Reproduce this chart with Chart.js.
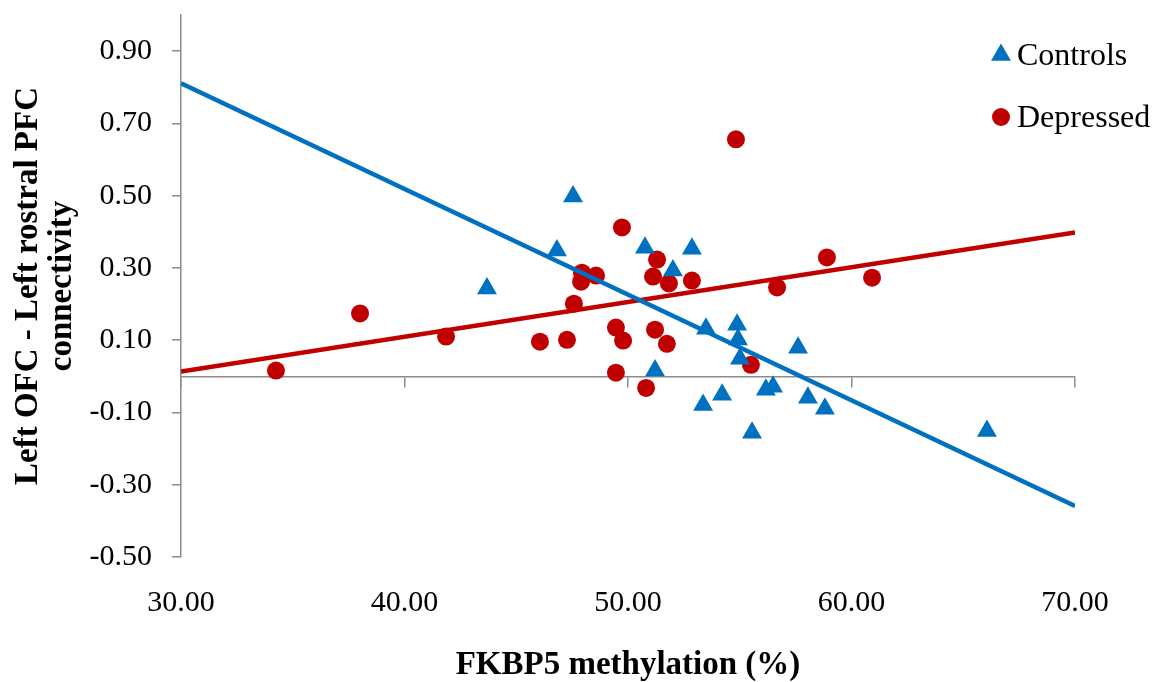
<!DOCTYPE html>
<html>
<head>
<meta charset="utf-8">
<script src="https://cdn.jsdelivr.net/npm/chart.js@4/dist/chart.umd.min.js"></script>
<style>
  body { margin: 0; background: #fff; }
  #grafico { display: block; }
</style>
</head>
<body>
<canvas id="grafico" width="1153" height="682"></canvas>
<script>
// valores
const nombresSeries = ['Controls', 'Depressed'];

const controlesX = [43.69, 46.82, 47.54, 50.76, 52.01, 52.86, 51.21, 53.49, 53.36, 54.21,
                    54.88, 54.92, 55.01, 55.55, 56.17, 56.49, 57.61, 58.05, 58.81, 66.06];
const controlesY = [0.243, 0.348, 0.498, 0.356, 0.293, 0.353, 0.016, 0.132, -0.079, -0.051,
                    0.143, 0.102, 0.049, -0.156, -0.037, -0.029, 0.079, -0.059, -0.090, -0.151];

const deprimidosX = [34.25, 38.01, 41.86, 46.06, 47.27, 47.58, 47.94, 47.90, 48.57, 49.73,
                     49.46, 49.78, 49.46, 50.81, 51.12, 51.30, 51.21, 51.74, 51.83, 52.86,
                     54.83, 55.50, 56.67, 58.90, 60.92];
const deprimidosY = [0.016, 0.174, 0.110, 0.096, 0.101, 0.201, 0.287, 0.262, 0.279, 0.412,
                     0.135, 0.099, 0.010, -0.032, 0.276, 0.323, 0.129, 0.090, 0.257, 0.265,
                     0.656, 0.032, 0.246, 0.329, 0.273];

// extremos de las rectas de tendencia
const tendenciaX = [30, 70];
const tendenciaControlesY = [0.811, -0.359];
const tendenciaDeprimidosY = [0.013, 0.398];

const ticksX = [30, 40, 50, 60, 70];
const ticksY = [-0.5, -0.3, -0.1, 0.1, 0.3, 0.5, 0.7, 0.9];

const azul = '#0070C0';
const rojo = '#C00000';
const gris = '#8c8c8c';
const fuente = "'Liberation Serif', 'Times New Roman', serif";

const aPuntos = (xs, ys) => xs.map((x, i) => ({ x, y: ys[i] }));

// leyenda flotante dentro del lienzo
const leyendaFlotante = {
    id: 'leyendaFlotante',
    afterDraw(chart) {
        const ctx = chart.ctx;
        const filas = [55, 117];
        ctx.save();
        [0, 1].forEach((i) => {
            const ds = chart.data.datasets[i];
            ctx.fillStyle = ds.backgroundColor;
            Chart.helpers.drawPoint(ctx, {
                pointStyle: ds.pointStyle,
                radius: ds.pointRadius,
                borderWidth: 0,
                rotation: 0,
            }, 1001, filas[i]);
            ctx.fillStyle = '#000';
            ctx.font = '32px ' + fuente;
            ctx.textBaseline = 'alphabetic';
            ctx.textAlign = 'left';
            ctx.fillText(nombresSeries[i], 1017, filas[i] + 10);
        });
        ctx.restore();
    },
};

new Chart(document.getElementById('grafico'), {
    type: 'scatter',
    data: {
        datasets: [
            {
                label: nombresSeries[0],
                data: aPuntos(controlesX, controlesY),
                pointStyle: 'triangle',
                pointRadius: 11.5,
                pointHoverRadius: 11.5,
                backgroundColor: azul,
                borderWidth: 0,
                order: 2,
            },
            {
                label: nombresSeries[1],
                data: aPuntos(deprimidosX, deprimidosY),
                pointStyle: 'circle',
                pointRadius: 9,
                pointHoverRadius: 9,
                backgroundColor: rojo,
                borderWidth: 0,
                order: 2,
            },
            {
                type: 'line',
                label: 'tendencia controles',
                data: aPuntos(tendenciaX, tendenciaControlesY),
                borderColor: azul,
                borderWidth: 4.5,
                pointRadius: 0,
                fill: false,
                order: 0,
            },
            {
                type: 'line',
                label: 'tendencia deprimidos',
                data: aPuntos(tendenciaX, tendenciaDeprimidosY),
                borderColor: rojo,
                borderWidth: 4.5,
                pointRadius: 0,
                fill: false,
                order: 1,
            },
        ],
    },
    options: {
        responsive: false,
        animation: false,
        layout: { padding: { top: 15, right: 78, bottom: 0, left: 0 } },
        plugins: {
            legend: { display: false },
            tooltip: { enabled: false },
        },
        scales: {
            x: {
                type: 'linear',
                position: 'bottom',
                min: 30,
                max: 70,
                afterBuildTicks: (eje) => { eje.ticks = ticksX.map(v => ({ value: v })); },
                afterFit: (eje) => { eje.height = 125; eje.paddingLeft = 0; eje.paddingRight = 0; },
                grid: { display: false },
                border: { display: false },
                ticks: {
                    padding: 20,
                    color: '#000',
                    font: { family: fuente, size: 30 },
                    callback: (v) => v.toFixed(2),
                },
                title: {
                    display: true,
                    text: 'FKBP5 methylation (%)',
                    color: '#000',
                    font: { family: fuente, size: 33, weight: 'bold', lineHeight: 1 },
                    padding: { top: 0, bottom: 0 },
                },
            },
            xCero: {
                type: 'linear',
                axis: 'x',
                position: { y: 0 },
                min: 30,
                max: 70,
                afterBuildTicks: (eje) => { eje.ticks = ticksX.map(v => ({ value: v })); },
                afterFit: (eje) => { eje.height = 0; },
                ticks: { display: false },
                grid: {
                    drawOnChartArea: false,
                    drawTicks: true,
                    tickLength: 10,
                    color: gris,
                    lineWidth: 1.5,
                },
                border: { display: true, color: gris, width: 1.5 },
            },
            y: {
                type: 'linear',
                position: 'left',
                min: -0.5,
                max: 1.0,
                afterBuildTicks: (eje) => { eje.ticks = ticksY.map(v => ({ value: v })); },
                afterFit: (eje) => { eje.width = 181; eje.paddingTop = 0; eje.paddingBottom = 0; },
                grid: {
                    drawOnChartArea: false,
                    drawTicks: true,
                    tickLength: 9,
                    color: gris,
                    lineWidth: 1.5,
                },
                border: { display: true, color: gris, width: 1.5 },
                ticks: {
                    padding: 20,
                    color: '#000',
                    font: { family: fuente, size: 30 },
                    callback: (v) => v.toFixed(2),
                },
                title: {
                    display: true,
                    text: ['Left OFC - Left rostral PFC', 'connectivity'],
                    color: '#000',
                    font: { family: fuente, size: 33, weight: 'bold', lineHeight: 1.04 },
                    padding: { top: 11, bottom: 0 },
                },
            },
        },
    },
    plugins: [leyendaFlotante],
});
</script>
</body>
</html>
